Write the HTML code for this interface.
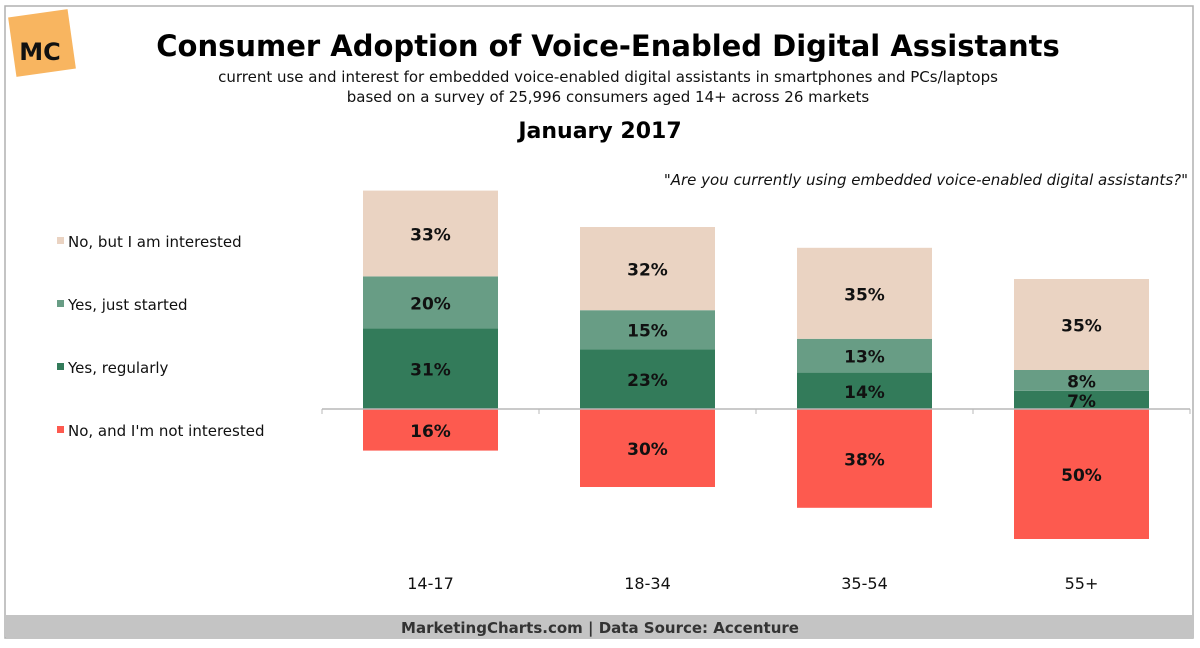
<!DOCTYPE html>
<html><head><meta charset="utf-8"><style>
body{margin:0;background:#fff;width:1200px;height:644px;overflow:hidden;font-family:"DejaVu Sans","Liberation Sans",sans-serif}
</style></head><body>
<svg id="chart" width="1200" height="644" xmlns="http://www.w3.org/2000/svg">
<rect x="5" y="6" width="1188" height="632" fill="#fff" stroke="#b0b0b0" stroke-width="1.5"/>
<rect x="6" y="615" width="1187" height="23" fill="#c4c4c4"/>
<text x="600" y="633" text-anchor="middle" font-size="15" font-weight="bold" fill="#333">MarketingCharts.com | Data Source: Accenture</text>
<g>
<rect x="12" y="13" width="60" height="60" fill="#f8b560" transform="rotate(-8 42 43)"/>
<text x="40" y="60" text-anchor="middle" font-size="24" font-weight="bold" fill="#111">MC</text>
</g>
<text x="608" y="56" text-anchor="middle" font-size="29" font-weight="bold" fill="#000">Consumer Adoption of Voice-Enabled Digital Assistants</text>
<text x="608" y="82" text-anchor="middle" font-size="15" fill="#111">current use and interest for embedded voice-enabled digital assistants in smartphones and PCs/laptops</text>
<text x="608" y="102" text-anchor="middle" font-size="15" fill="#111">based on a survey of 25,996 consumers aged 14+ across 26 markets</text>
<text x="600" y="138" text-anchor="middle" font-size="22" font-weight="bold" fill="#000">January 2017</text>
<text x="1188" y="185" text-anchor="end" font-size="15" font-style="italic" fill="#111">"Are you currently using embedded voice-enabled digital assistants?"</text>
<g id="legend"></g>
<g id="bars"></g>
<g id="axis"></g>
</svg>
<script>
const categories=["14-17","18-34","35-54","55+"];
const regularly=[31,23,14,7];
const justStarted=[20,15,13,8];
const interested=[33,32,35,35];
const notInterested=[16,30,38,50];
const seriesNames=["No, but I am interested","Yes, just started","Yes, regularly","No, and I'm not interested"];

const NS="http://www.w3.org/2000/svg";
const base=409, k=2.6, x0=322, step=217, bw=135;
const colors={reg:"#337b5a",js:"#689d85",int:"#ead3c2",no:"#fd5a4f"};
const xc=i=>x0+step*i+(step-bw)/2;
const y=v=>base-v*k;
function el(t,a,p){const e=document.createElementNS(NS,t);for(const q in a)e.setAttribute(q,a[q]);p.appendChild(e);return e;}
const bars=document.getElementById('bars'), axis=document.getElementById('axis'), legend=document.getElementById('legend');
categories.forEach((c,i)=>{
  const x=xc(i);
  const segs=[[0,regularly[i],colors.reg,'regularly'],[regularly[i],regularly[i]+justStarted[i],colors.js,'just-started'],[regularly[i]+justStarted[i],regularly[i]+justStarted[i]+interested[i],colors.int,'interested']];
  segs.forEach(s=>{
    const r=el('rect',{x:x,y:y(s[1]),width:bw,height:(s[1]-s[0])*k,fill:s[2]},bars);
    
    
    const t=el('text',{x:x+bw/2,y:(y(s[0])+y(s[1]))/2+7,'text-anchor':'middle','font-size':17,'font-weight':'bold',fill:'#111'},bars);
    t.textContent=(s[1]-s[0])+'%';
    
    
  });
  const r=el('rect',{x:x,y:base,width:bw,height:notInterested[i]*k,fill:colors.no},bars);
  
  
  const t=el('text',{x:x+bw/2,y:base+notInterested[i]*k/2+7,'text-anchor':'middle','font-size':17,'font-weight':'bold',fill:'#111'},bars);
  t.textContent=notInterested[i]+'%';
  
  
  const ct=el('text',{x:x+bw/2,y:589,'text-anchor':'middle','font-size':16,fill:'#111'},axis);
  ct.textContent=c;
  
  
});
const ln=el('line',{x1:x0,x2:x0+step*4,y1:base,y2:base,stroke:'#b8b8b8','stroke-width':1.5},axis);


for(let i=0;i<=4;i++){const tk=el('line',{x1:x0+step*i,x2:x0+step*i,y1:base,y2:base+5,stroke:'#b8b8b8'},axis);

}
const lc=[colors.int,colors.js,colors.reg,colors.no];
seriesNames.forEach((n,i)=>{
  const yy=247+i*63;
  const sw=el('rect',{x:57,y:yy-10,width:7,height:7,fill:lc[i]},legend);
  
  
  const t=el('text',{x:68,y:yy,'font-size':15,fill:'#111'},legend);
  t.textContent=n;
  
  
});
</script>
</body></html>
